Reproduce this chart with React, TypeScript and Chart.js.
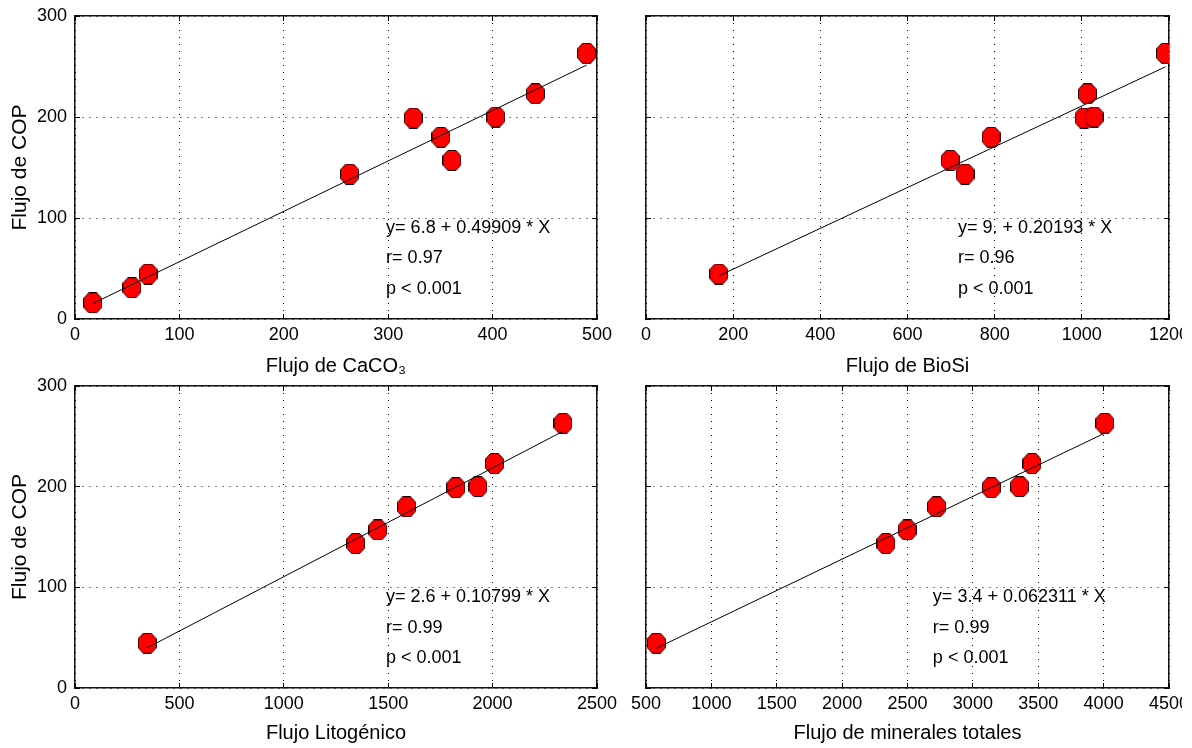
import React, { useEffect, useRef } from "react";
import { Chart, registerables } from "chart.js";

Chart.register(...registerables);

// ---------------- data ----------------
const copFluxCaCO3 = [16, 31, 44.5, 143.5, 157, 180, 199, 200, 223, 263];
const caco3Flux = [17, 54.5, 70, 263, 361, 350.5, 324, 403, 441, 490];

const copFlux = [44.5, 143.5, 157, 180, 199, 200, 223, 263];
const bioSiFlux = [167, 732, 698, 792, 1005, 1028, 1013, 1192];
const lithoFlux = [346, 1344, 1450, 1588, 1824, 1930, 2009, 2337];
const mineralFlux = [579, 2335, 2498, 2722, 3141, 3358, 3452, 4009];

const fitIntercepts = [6.8, 9, 2.6, 3.4];
const fitSlopes = [0.49909, 0.20193, 0.10799, 0.062311];

const xTitles = ["Flujo de CaCO\u2083", "Flujo de BioSi", "Flujo Litog\u00e9nico", "Flujo de minerales totales"];
const yTitle = "Flujo de COP";
const eqLabels = ["y= 6.8 + 0.49909 * X", "y= 9. + 0.20193 * X", "y= 2.6 + 0.10799 * X", "y= 3.4 + 0.062311 * X"];
const rLabels = ["r= 0.97", "r= 0.96", "r= 0.99", "r= 0.99"];
const pLabel = "p < 0.001";

const xMins = [0, 0, 0, 500];
const xMaxs = [500, 1200, 2500, 4500];
const xSteps = [100, 200, 500, 500];
const yMin = 0;
const yMax = 300;
const yStep = 100;

const textAnchorX = [298, 716, 1489, 2694];
const textAnchorY = [90, 60, 30];

const panelX = [caco3Flux, bioSiFlux, lithoFlux, mineralFlux];
const panelY = [copFluxCaCO3, copFlux, copFlux, copFlux];

// ---------------- layout ----------------
const layouts = [
  { cx: 0, cy: 0, cw: 620, ch: 380, L: 75, T: 16, R: 597, B: 319, showY: true, titlePad: 2 },
  { cx: 625, cy: 0, cw: 557, ch: 380, L: 646, T: 16, R: 1169, B: 319, showY: false, titlePad: 2 },
  { cx: 0, cy: 370, cw: 620, ch: 378, L: 75, T: 386, R: 597, B: 688, showY: true, titlePad: 3 },
  { cx: 625, cy: 370, cw: 557, ch: 378, L: 646, T: 386, R: 1169, B: 688, showY: false, titlePad: 3 },
];

const SANS = '"Liberation Sans", Arial, sans-serif';

function makeMarker(): HTMLCanvasElement {
  const w = 19;
  const h = 21;
  const c = document.createElement("canvas");
  c.width = w;
  c.height = h;
  const ctx = c.getContext("2d")!;
  const a = 0.5;
  const W = w - 0.5;
  const H = h - 0.5;
  const cx = w * 0.29;
  const cy = h * 0.29;
  ctx.beginPath();
  ctx.moveTo(cx, a);
  ctx.lineTo(W - cx + a, a);
  ctx.lineTo(W, cy);
  ctx.lineTo(W, H - cy + a);
  ctx.lineTo(W - cx + a, H);
  ctx.lineTo(cx, H);
  ctx.lineTo(a, H - cy + a);
  ctx.lineTo(a, cy);
  ctx.closePath();
  ctx.fillStyle = "#ff0000";
  ctx.fill();
  ctx.strokeStyle = "#1a0000";
  ctx.lineWidth = 1;
  ctx.stroke();
  return c;
}

const fitTextPlugin = {
  id: "fitText",
  afterDatasetsDraw(chart: any, _args: any, opts: any) {
    const { ctx, scales } = chart;
    const lines: string[] = opts.lines || [];
    ctx.save();
    ctx.font = `18px ${SANS}`;
    ctx.fillStyle = "#000";
    ctx.textBaseline = "middle";
    ctx.textAlign = "left";
    lines.forEach((t, i) => {
      ctx.fillText(t, scales.x.getPixelForValue(opts.x), scales.y.getPixelForValue(textAnchorY[i]));
    });
    ctx.restore();
  },
};

function Panel({ idx }: { idx: number }) {
  const ref = useRef<HTMLCanvasElement | null>(null);
  useEffect(() => {
    if (!ref.current) return;
    const lay = layouts[idx];
    const xs = panelX[idx];
    const ys = panelY[idx];
    const pts = xs.map((x, i) => ({ x, y: ys[i] }));
    const xLo = Math.min(...xs);
    const xHi = Math.max(...xs);
    const a = fitIntercepts[idx];
    const b = fitSlopes[idx];
    const fit = [
      { x: xLo, y: a + b * xLo },
      { x: xHi, y: a + b * xHi },
    ];
    const marker = makeMarker();
    const tickFont = { family: SANS, size: 18, lineHeight: 1.2 };
    const titleFont = { family: SANS, size: 20, lineHeight: 1.2 };
    const gridCommon = {
      color: "#000",
      lineWidth: 1,
      drawTicks: true,
      tickLength: -5,
      tickColor: "#000",
      tickWidth: 1,
      borderDash: [1, 6],
    };
    const borderCommon = { display: true, color: "#111", width: 1.5, dash: [1, 6] };
    const fmt = (v: any) => String(v);
    const noPadX = (s: any) => {
      s.paddingLeft = 0;
      s.paddingRight = 0;
    };
    const noPadY = (s: any) => {
      s.paddingTop = 0;
      s.paddingBottom = 0;
    };
    const chart = new Chart(ref.current, {
      type: "scatter",
      data: {
        datasets: [
          {
            data: fit,
            showLine: true,
            borderColor: "#000",
            borderWidth: 1,
            pointRadius: 0,
            fill: false,
          },
          {
            data: pts,
            pointStyle: marker as any,
            pointRadius: 9,
            showLine: false,
          },
        ],
      },
      options: {
        animation: false,
        responsive: false,
        events: [],
        layout: {
          padding: {
            left: 0,
            bottom: 0,
            top: lay.T - lay.cy,
            right: lay.cx + lay.cw - lay.R,
          },
        },
        plugins: {
          legend: { display: false },
          tooltip: { enabled: false },
          fitText: { lines: [eqLabels[idx], rLabels[idx], pLabel], x: textAnchorX[idx] },
        } as any,
        scales: {
          x: {
            type: "linear",
            position: "bottom",
            min: xMins[idx],
            max: xMaxs[idx],
            ticks: { stepSize: xSteps[idx], autoSkip: false, maxRotation: 0, padding: 10, font: tickFont, color: "#000", callback: fmt },
            grid: gridCommon,
            border: borderCommon,
            title: { display: true, text: xTitles[idx], font: titleFont, color: "#000", padding: { top: 0, bottom: lay.titlePad } },
            afterFit: (s: any) => {
              s.height = lay.cy + lay.ch - lay.B;
              noPadX(s);
            },
          },
          x2: {
            type: "linear",
            position: "top",
            min: xMins[idx],
            max: xMaxs[idx],
            ticks: { stepSize: xSteps[idx], display: false },
            grid: { ...gridCommon, drawOnChartArea: false },
            border: borderCommon,
            afterFit: (s: any) => {
              s.height = 0;
              noPadX(s);
            },
          },
          y: {
            type: "linear",
            position: "left",
            min: yMin,
            max: yMax,
            ticks: { stepSize: yStep, display: lay.showY, padding: 13, font: tickFont, color: "#000", callback: fmt },
            grid: gridCommon,
            border: borderCommon,
            title: { display: lay.showY, text: yTitle, font: { family: SANS, size: 21, lineHeight: 1.2 }, color: "#000", padding: { top: 8, bottom: 0 } },
            afterFit: (s: any) => {
              s.width = lay.L - lay.cx;
              noPadY(s);
            },
          },
          y2: {
            type: "linear",
            position: "right",
            min: yMin,
            max: yMax,
            ticks: { stepSize: yStep, display: false },
            grid: { ...gridCommon, drawOnChartArea: false },
            border: borderCommon,
            afterFit: (s: any) => {
              s.width = 0;
              noPadY(s);
            },
          },
        } as any,
      },
      plugins: [fitTextPlugin as any],
    });
    return () => chart.destroy();
  }, [idx]);
  const lay = layouts[idx];
  return (
    <canvas
      ref={ref}
      width={lay.cw}
      height={lay.ch}
      style={{ position: "absolute", left: lay.cx, top: lay.cy, width: lay.cw, height: lay.ch }}
    />
  );
}

export default function App() {
  return (
    <div style={{ position: "absolute", left: 0, top: 0, width: 1192, height: 748, background: "#fff", overflow: "hidden" }}>
      {layouts.map((_, i) => (
        <Panel key={i} idx={i} />
      ))}
    </div>
  );
}
